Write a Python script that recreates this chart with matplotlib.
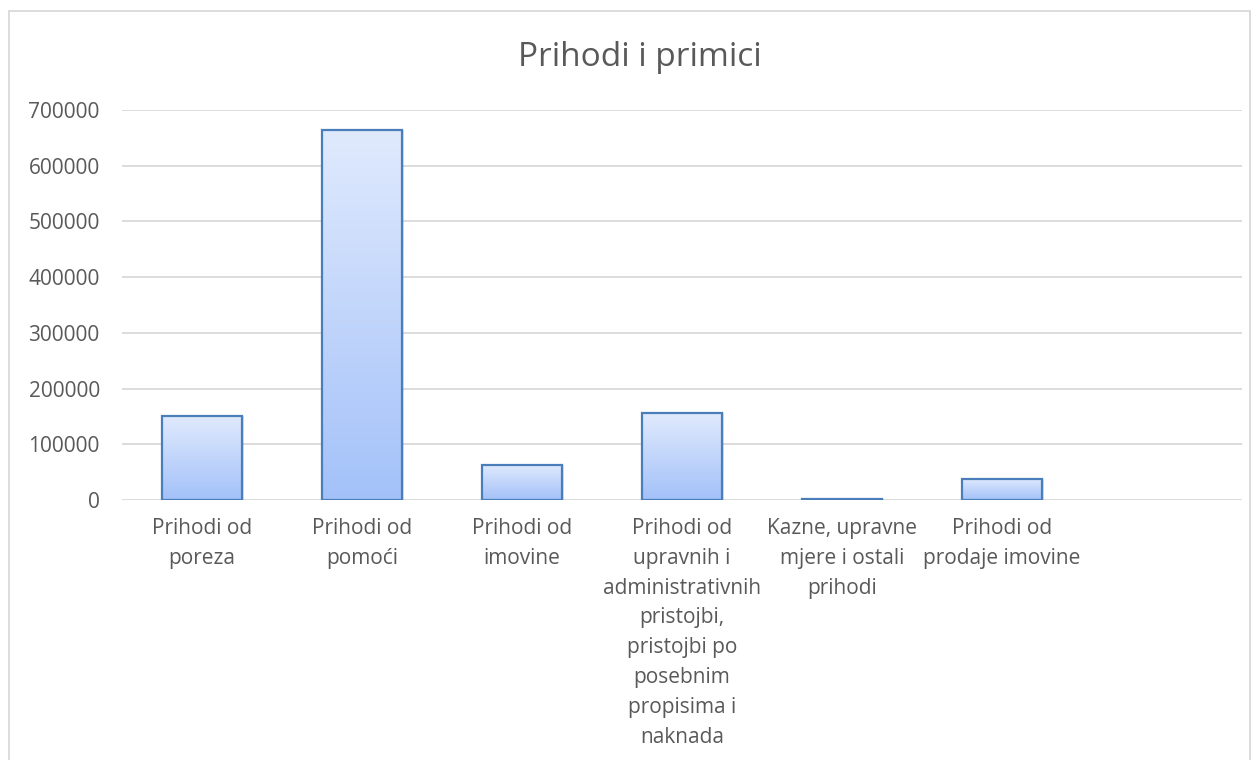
import numpy as np
import matplotlib
matplotlib.use("Agg")
import matplotlib.pyplot as plt
from matplotlib.patches import Rectangle
from matplotlib.colors import LinearSegmentedColormap

categories = [
    "Prihodi od\nporeza",
    "Prihodi od\npomoći",
    "Prihodi od\nimovine",
    "Prihodi od\nupravnih i\nadministrativnih\npristojbi,\npristojbi po\nposebnim\npropisima i\nnaknada",
    "Kazne, upravne\nmjere i ostali\nprihodi",
    "Prihodi od\nprodaje imovine",
    "",
]
values = [150000, 664000, 63000, 156000, 2000, 38000, 0]
yticks = [0, 100000, 200000, 300000, 400000, 500000, 600000, 700000]

plt.rcParams['font.family'] = ['Open Sans', 'DejaVu Sans']
grey = '#595959'

fig = plt.figure(figsize=(12.6, 7.6), dpi=100)
ax = fig.add_axes([122 / 1260, 1 - 500 / 760, 1120 / 1260, 390 / 760])

# chart border
fig.patches.append(Rectangle((9 / 1260, -0.05), 1241 / 1260, 1.05 - 11 / 760,
                             transform=fig.transFigure, fill=False,
                             edgecolor='#d9d9d9', linewidth=1.3))

x = np.arange(len(categories))
cmap = LinearSegmentedColormap.from_list('bar', ['#a3c1f9', '#e0eafd'])
grad = np.linspace(0, 1, 256).reshape(-1, 1)
lw = [1.6 if v > 0 else 0 for v in values]
bars = ax.bar(x, values, width=0.5, color='none', edgecolor='#4a7ebb',
              linewidth=lw, zorder=3)
for b, v in zip(bars, values):
    if v <= 0:
        continue
    x0, w = b.get_x(), b.get_width()
    # soft shadow
    ax.add_patch(Rectangle((x0 + 0.012, 0), w, v, facecolor='#000000',
                           alpha=0.12, edgecolor='none', zorder=1.5))
    im = ax.imshow(grad, cmap=cmap, aspect='auto', origin='lower',
                   extent=(x0, x0 + w, 0, v), zorder=2)
    im.set_clip_path(b)

ax.set_xlim(-0.5, len(categories) - 0.5)
ax.set_ylim(0, 700000)
ax.set_yticks(yticks)
ax.set_yticklabels([str(t) for t in yticks])
ax.set_xticks(x)
ax.set_xticklabels(categories, linespacing=1.55)
ax.tick_params(axis='both', length=0, labelsize=15, colors=grey, labelcolor=grey)
ax.tick_params(axis='y', pad=16)
ax.tick_params(axis='x', pad=13)
ax.grid(axis='y', color='#d9d9d9', linewidth=1.3, zorder=0)
ax.set_axisbelow(True)
for s in ax.spines.values():
    s.set_visible(False)

fig.text(640 / 1260, 1 - 57 / 760, "Prihodi i primici", ha='center', va='center',
         fontsize=24, color=grey)

fig.savefig('out.png', dpi=100)
